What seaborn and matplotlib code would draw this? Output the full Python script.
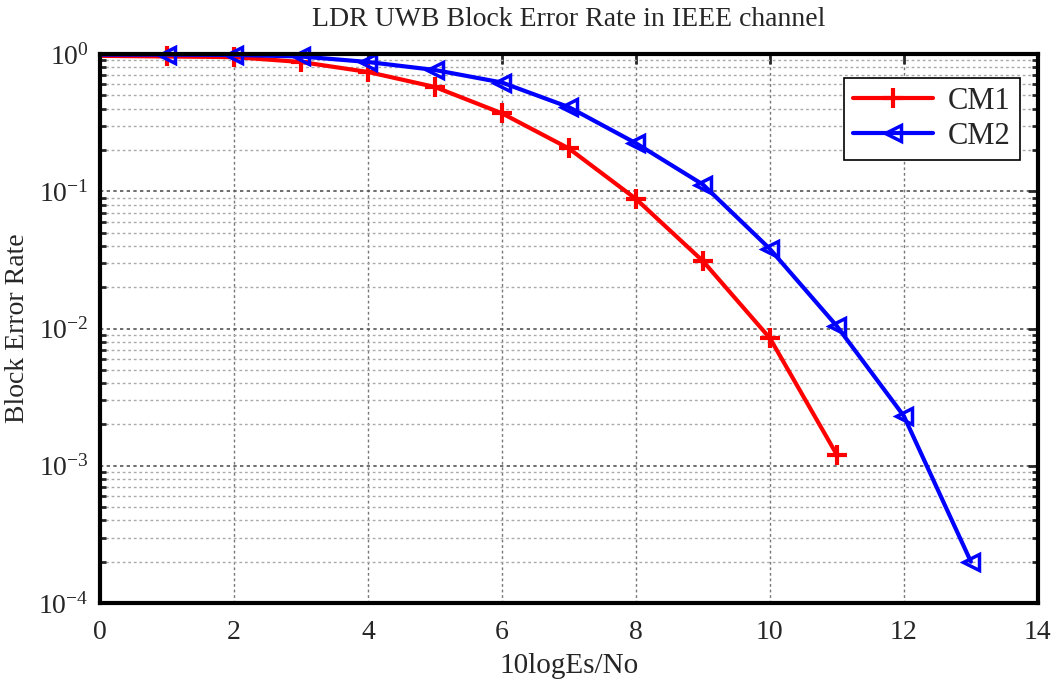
import numpy as np
import pandas as pd
import matplotlib
matplotlib.use("Agg")
import matplotlib.pyplot as plt
import seaborn as sns
from matplotlib.ticker import LogLocator, NullFormatter

snr_cm1 = [0, 1, 2, 3, 4, 5, 6, 7, 8, 9, 10, 11]
bler_cm1 = [0.97, 0.96, 0.95, 0.875, 0.74, 0.575, 0.37, 0.205, 0.088, 0.031, 0.0085, 0.0012]
snr_cm2 = [0, 1, 2, 3, 4, 5, 6, 7, 8, 9, 10, 11, 12, 13]
bler_cm2 = [0.99, 0.99, 0.985, 0.96, 0.875, 0.765, 0.62, 0.41, 0.224, 0.112, 0.038, 0.0104, 0.0023, 0.0002]
series_names = ["CM1", "CM2"]
x_ticks = [0, 2, 4, 6, 8, 10, 12, 14]

sns.set_theme(style="white")
plt.rcParams["font.family"] = ["Liberation Serif", "DejaVu Serif"]
plt.rcParams["mathtext.fontset"] = "custom"
plt.rcParams["mathtext.rm"] = "Liberation Serif"

fig = plt.figure(figsize=(10.58, 6.84), dpi=100)
ax = fig.add_axes([0.0945, 0.1184, 0.8865, 0.8026])

df1 = pd.DataFrame({"x": snr_cm1, "y": bler_cm1})
df2 = pd.DataFrame({"x": snr_cm2, "y": bler_cm2})
sns.lineplot(data=df1, x="x", y="y", ax=ax, color="#ff0000", linewidth=3,
             marker="+", markersize=14, markeredgewidth=3, markeredgecolor="#ff0000",
             markevery=slice(1, None), label=series_names[0], clip_on=False)
sns.lineplot(data=df2, x="x", y="y", ax=ax, color="#0000ff", linewidth=3,
             marker="<", markersize=12, markeredgewidth=2.5, markerfacecolor="none",
             markeredgecolor="#0000ff", markevery=slice(1, None),
             label=series_names[1], clip_on=False)

ax.set_yscale("log")
ax.set_xlim(0, 14)
ax.set_ylim(1e-4, 1)
ax.set_xticks(x_ticks)
ax.set_xticklabels([str(t) for t in x_ticks])
ax.yaxis.set_major_locator(LogLocator(base=10, numticks=10))
ax.yaxis.set_minor_locator(LogLocator(base=10, subs=np.arange(2, 10), numticks=20))
ax.yaxis.set_minor_formatter(NullFormatter())

ax.grid(True, which="major", axis="y", color="#555555", linestyle=(0, (2, 2)), linewidth=1.2)
ax.grid(True, which="major", axis="x", color="#777777", linestyle=(0, (2, 2)), linewidth=1)
ax.grid(True, which="minor", axis="y", color="#aaaaaa", linestyle=(0, (2, 2)), linewidth=1)
ax.set_axisbelow(True)

for s in ax.spines.values():
    s.set_linewidth(3)
    s.set_color("black")
ax.tick_params(axis="both", which="major", direction="in", length=7, width=2,
               labelsize=20, top=True, right=True)
ax.tick_params(axis="x", which="major", pad=12)
ax.tick_params(axis="y", which="major", pad=8)
ax.tick_params(axis="y", which="minor", direction="in", length=4, width=2, left=True, right=True)

ax.set_title("LDR UWB Block Error Rate in IEEE channel", fontsize=20, pad=20)
ax.set_xlabel("10logEs/No", fontsize=21, labelpad=6)
ax.set_ylabel("Block Error Rate", fontsize=20, labelpad=6)

leg = ax.legend(loc="upper right", fontsize=22, frameon=True, fancybox=False,
                edgecolor="black", framealpha=1, handlelength=2.6, borderpad=0.3,
                labelspacing=0.2, handletextpad=0.5, bbox_to_anchor=(0.997, 0.985))
leg.get_frame().set_linewidth(1.2)

fig.savefig("out.png", dpi=100)
